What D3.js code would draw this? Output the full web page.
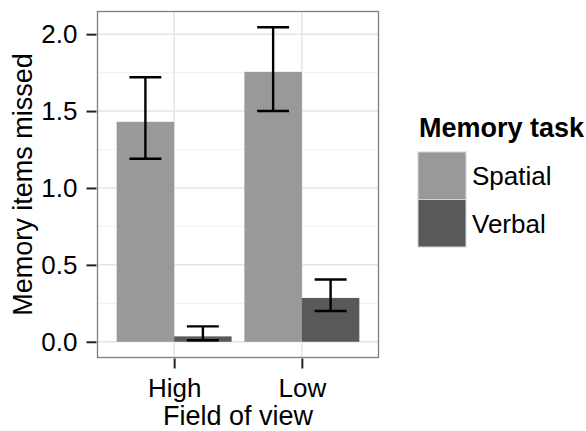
<!DOCTYPE html>
<html>
<head>
<meta charset="utf-8">
<script src="https://cdn.jsdelivr.net/npm/d3@7"></script>
<style>
  html, body { margin: 0; padding: 0; background: #ffffff; }
  svg { display: block; font-family: "Liberation Sans", Arial, Helvetica, sans-serif; }
</style>
</head>
<body>
<svg id="chart" width="586" height="431"></svg>
<script>
// Field-of-view conditions on the x axis
const categories = ["High", "Low"];
// Memory task groups (legend order)
const tasks = ["Spatial", "Verbal"];
// Mean items missed per task, per field of view
const spatialMean = [1.43, 1.755];
const verbalMean = [0.035, 0.285];
// Error bar bounds
const spatialLower = [1.19, 1.50];
const spatialUpper = [1.72, 2.045];
const verbalLower = [0.01, 0.20];
const verbalUpper = [0.10, 0.405];
// Axis ticks
const yTicks = [0, 0.5, 1.0, 1.5, 2.0];
const yMinorTicks = [0.25, 0.75, 1.25, 1.75];

const fills = { Spatial: "#999999", Verbal: "#595959" };

const rows = [];
categories.forEach((c, i) => {
  rows.push({ cat: c, task: "Spatial", mean: spatialMean[i], lo: spatialLower[i], hi: spatialUpper[i] });
  rows.push({ cat: c, task: "Verbal", mean: verbalMean[i], lo: verbalLower[i], hi: verbalUpper[i] });
});

const svg = d3.select("#chart");
const panel = { left: 97.5, right: 378.5, top: 11.5, bottom: 357.5 };

// y: data span padded by 5% on both ends
const yMax = d3.max(rows, d => d.hi);
const pad = yMax * 0.05;
const y = d3.scaleLinear().domain([-pad, yMax + pad]).range([panel.bottom, panel.top]);

const x = d3.scalePoint().domain(categories).range([panel.left, panel.right]).padding(0.6);
const step = x.step();
const dodge = d3.scaleBand().domain(tasks).range([-0.45 * step, 0.45 * step]).padding(0);

// panel grid
const grid = svg.append("g");
grid.selectAll("line.minor").data(yMinorTicks).join("line")
  .attr("x1", panel.left).attr("x2", panel.right)
  .attr("y1", d => y(d)).attr("y2", d => y(d))
  .attr("stroke", "#f2f2f2").attr("stroke-width", 1.2);
grid.selectAll("line.majory").data(yTicks).join("line")
  .attr("x1", panel.left).attr("x2", panel.right)
  .attr("y1", d => y(d)).attr("y2", d => y(d))
  .attr("stroke", "#e5e5e5").attr("stroke-width", 1.5);
grid.selectAll("line.majorx").data(categories).join("line")
  .attr("x1", d => x(d)).attr("x2", d => x(d))
  .attr("y1", panel.top).attr("y2", panel.bottom)
  .attr("stroke", "#e5e5e5").attr("stroke-width", 1.5);

// bars
svg.append("g").selectAll("rect").data(rows).join("rect")
  .attr("x", d => x(d.cat) + dodge(d.task))
  .attr("width", dodge.bandwidth())
  .attr("y", d => y(d.mean))
  .attr("height", d => y(0) - y(d.mean))
  .attr("fill", d => fills[d.task]);

// error bars
const capHalf = 0.125 * step;
const eb = svg.append("g").attr("stroke", "#000").attr("stroke-width", 2.4).attr("fill", "none");
rows.forEach(d => {
  const cx = x(d.cat) + dodge(d.task) + dodge.bandwidth() / 2;
  eb.append("line").attr("x1", cx).attr("x2", cx).attr("y1", y(d.lo)).attr("y2", y(d.hi));
  eb.append("line").attr("x1", cx - capHalf).attr("x2", cx + capHalf).attr("y1", y(d.lo)).attr("y2", y(d.lo));
  eb.append("line").attr("x1", cx - capHalf).attr("x2", cx + capHalf).attr("y1", y(d.hi)).attr("y2", y(d.hi));
});

// panel border
svg.append("rect")
  .attr("x", panel.left).attr("y", panel.top)
  .attr("width", panel.right - panel.left).attr("height", panel.bottom - panel.top)
  .attr("fill", "none").attr("stroke", "#7f7f7f").attr("stroke-width", 1.3);

// axes
const yAxis = svg.append("g").attr("transform", `translate(${panel.left - 1},0)`)
  .call(d3.axisLeft(y).tickValues(yTicks).tickFormat(d3.format(".1f")).tickSize(10).tickPadding(9));
const xAxis = svg.append("g").attr("transform", `translate(0,${panel.bottom + 1})`)
  .call(d3.axisBottom(x).tickSize(10).tickPadding(10));
[yAxis, xAxis].forEach(a => {
  a.select(".domain").remove();
  a.selectAll(".tick line").attr("stroke", "#222").attr("stroke-width", 2);
  a.selectAll(".tick text").attr("fill", "#000").style("font-size", "26px").style("font-family", "Liberation Sans, Arial, sans-serif");
});

// axis titles
svg.append("text")
  .attr("x", (panel.left + panel.right) / 2).attr("y", 425)
  .attr("text-anchor", "middle").style("font-size", "27px").text("Field of view");
svg.append("text")
  .attr("transform", `translate(32,${(panel.top + panel.bottom) / 2}) rotate(-90)`)
  .attr("text-anchor", "middle").style("font-size", "27px").text("Memory items missed");

// legend
const legend = svg.append("g");
legend.append("text").attr("x", 419).attr("y", 137)
  .style("font-size", "27px").style("font-weight", "bold").text("Memory task");
const keyH = 47.5, keyW = 48;
tasks.forEach((t, i) => {
  legend.append("rect").attr("x", 418).attr("y", 152 + i * keyH)
    .attr("width", keyW).attr("height", keyH)
    .attr("fill", fills[t]).attr("stroke", "#d4d4d4").attr("stroke-width", 1);
  legend.append("text").attr("x", 472).attr("y", 152 + i * keyH + keyH / 2 + 9.5)
    .style("font-size", "26px").text(t);
});
</script>
</body>
</html>
